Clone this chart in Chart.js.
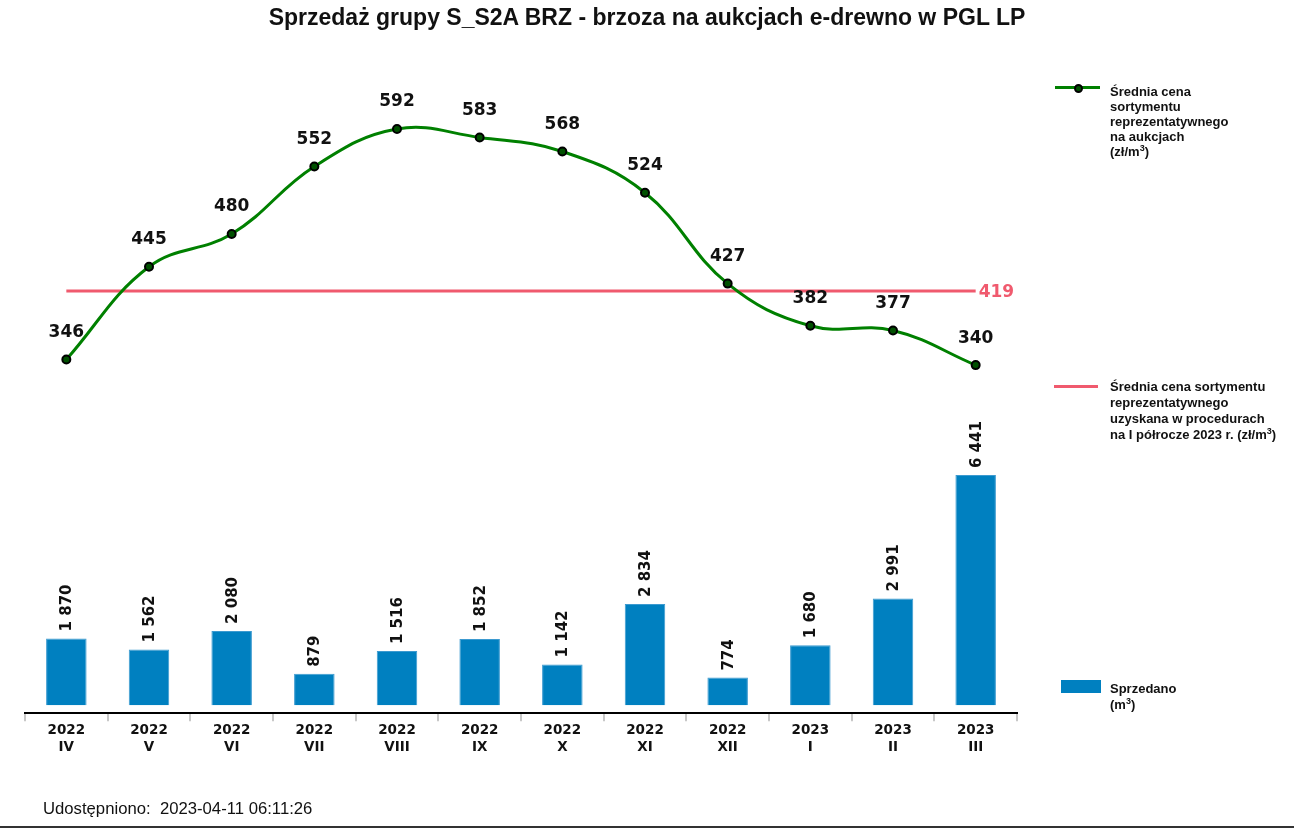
<!DOCTYPE html>
<html>
<head>
<meta charset="utf-8">
<script src="https://cdn.jsdelivr.net/npm/chart.js@4.4.0/dist/chart.umd.min.js"></script>
<style>
  body { margin: 0; background: #fff; }
  #wrap { position: relative; width: 1294px; height: 828px; overflow: hidden; border-bottom: 2px solid #333; box-sizing: border-box; }
  #title { position: absolute; left: 0; width: 1294px; top: 4px; text-align: center; font: bold 23px "Liberation Sans", Arial, sans-serif; color: #111; }
  .leg { position: absolute; font: bold 13px "Liberation Sans", Arial, sans-serif; line-height: 15px; color: #111; }
  #footer { position: absolute; left: 43px; top: 799px; font: 16.7px "Liberation Sans", Arial, sans-serif; color: #111; }
  canvas { position: absolute; left: 0; top: 0; }
</style>
</head>
<body>
<div id="wrap">
  <canvas id="myChart" width="1294" height="828"></canvas>
  <div id="title">Sprzedaż grupy S_S2A BRZ - brzoza na aukcjach e-drewno w PGL LP</div>

  <div style="position:absolute;left:1055px;top:86px;width:45px;height:3px;background:#008000"></div>
  <div style="position:absolute;left:1074px;top:84px;width:5px;height:5px;border-radius:50%;background:#005000;border:2px solid #000"></div>
  <div class="leg" style="left:1110px;top:84px">Średnia cena<br>sortymentu<br>reprezentatywnego<br>na aukcjach<br>(zł/m<sup style="font-size:9px;line-height:0">3</sup>)</div>

  <div style="position:absolute;left:1054px;top:385px;width:44px;height:3px;background:#f05a6e"></div>
  <div class="leg" style="left:1110px;top:379px;line-height:16px">Średnia cena sortymentu<br>reprezentatywnego<br>uzyskana w procedurach<br>na I półrocze 2023 r. (zł/m<sup style="font-size:9px;line-height:0">3</sup>)</div>

  <div style="position:absolute;left:1061px;top:680px;width:40px;height:13px;background:#0080c0"></div>
  <div class="leg" style="left:1110px;top:681px;line-height:16px">Sprzedano<br>(m<sup style="font-size:9px;line-height:0">3</sup>)</div>

  <div id="footer">Udostępniono:&nbsp; 2023-04-11 06:11:26</div>
</div>
<script>
(() => {
  'use strict'

  const years = ['2022', '2022', '2022', '2022', '2022', '2022', '2022', '2022', '2022', '2023', '2023', '2023']
  const months = ['IV', 'V', 'VI', 'VII', 'VIII', 'IX', 'X', 'XI', 'XII', 'I', 'II', 'III']
  const sold = [1870, 1562, 2080, 879, 1516, 1852, 1142, 2834, 774, 1680, 2991, 6441]
  const avgPrice = [346, 445, 480, 552, 592, 583, 568, 524, 427, 382, 377, 340]
  const refPrice = 419

  const labels = years.map((y, i) => [y, months[i]])
  const refLine = avgPrice.map(() => refPrice)

  const fmt = v => String(v).replace(/\B(?=(\d{3})+(?!\d))/g, ' ')
  const numFont = 'bold 17px "DejaVu Sans", sans-serif'

  // value labels drawn by hand (no datalabels plugin)
  const valueLabels = {
    id: 'valueLabels',
    afterDatasetsDraw(chart) {
      const ctx = chart.ctx
      ctx.save()
      // line labels
      const lineMeta = chart.getDatasetMeta(0)
      ctx.font = numFont
      ctx.fillStyle = '#111'
      ctx.textAlign = 'center'
      ctx.textBaseline = 'middle'
      lineMeta.data.forEach((pt, i) => {
        ctx.fillText(fmt(avgPrice[i]), pt.x, pt.y - 27)
      })
      // reference label
      const refMeta = chart.getDatasetMeta(1)
      const last = refMeta.data[refMeta.data.length - 1]
      ctx.fillStyle = '#f05a6e'
      ctx.textAlign = 'left'
      ctx.fillText(String(refPrice), last.x + 3, last.y + 1)
      // bar labels, rotated
      const barMeta = chart.getDatasetMeta(2)
      ctx.font = 'bold 15px "DejaVu Sans", sans-serif'
      ctx.fillStyle = '#111'
      barMeta.data.forEach((bar, i) => {
        ctx.save()
        ctx.translate(bar.x + 1, bar.y - 7)
        ctx.rotate(-Math.PI / 2)
        ctx.textAlign = 'left'
        ctx.textBaseline = 'middle'
        ctx.fillText(fmt(sold[i]), 0, 0)
        ctx.restore()
      })
      ctx.restore()
    }
  }

  const ctx = document.getElementById('myChart')
  // eslint-disable-next-line no-unused-vars
  const myChart = new Chart(ctx, {
    data: {
      labels: labels,
      datasets: [{
        type: 'line',
        data: avgPrice,
        yAxisID: 'yPrice',
        borderColor: '#008000',
        borderWidth: 3,
        tension: 0.4,
        pointRadius: 4,
        pointBorderWidth: 2,
        pointBackgroundColor: '#005000',
        pointBorderColor: '#000',
        order: 0
      }, {
        type: 'line',
        data: refLine,
        yAxisID: 'yPrice',
        borderColor: '#f05a6e',
        borderWidth: 3,
        pointRadius: 0,
        order: 1
      }, {
        type: 'bar',
        data: sold,
        yAxisID: 'ySold',
        backgroundColor: '#0080c0',
        borderColor: '#3c9ad0',
        borderWidth: 1,
        barPercentage: 0.49,
        categoryPercentage: 1,
        order: 2
      }]
    },
    options: {
      responsive: false,
      animation: false,
      layout: { padding: { left: 25, right: 277, top: 60, bottom: 71 } },
      plugins: {
        legend: { display: false },
        tooltip: { enabled: false }
      },
      scales: {
        x: {
          offset: true,
          border: { color: '#000', width: 2 },
          grid: { offset: true, drawOnChartArea: false, color: '#c8c8c8', tickLength: 8, lineWidth: 2 },
          ticks: {
            color: '#111',
            padding: 1,
            maxRotation: 0,
            autoSkip: false,
            font: { family: '"DejaVu Sans", sans-serif', size: 13.5, weight: 'bold', lineHeight: 1.25 }
          }
        },
        yPrice: { display: false, min: -31.6, max: 665.7 },
        ySold: { display: false, min: -224, max: 18060 }
      }
    },
    plugins: [valueLabels]
  })
})()
</script>
</body>
</html>
